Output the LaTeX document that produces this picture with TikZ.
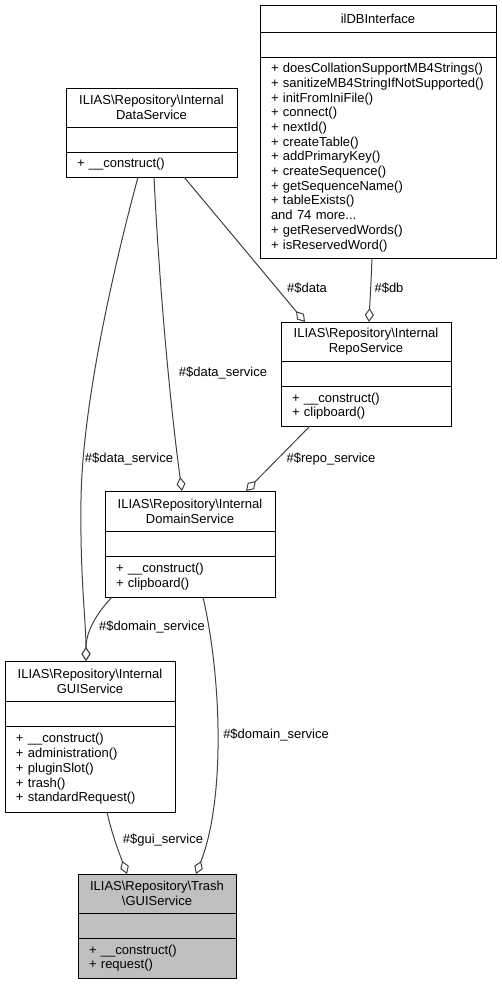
\documentclass[tikz,border=0pt]{standalone}
\usepackage{fontspec}
\setmainfont{Liberation Sans}
\usetikzlibrary{positioning,arrows.meta}
\definecolor{edgegray}{RGB}{64,64,64}
\definecolor{trashgray}{RGB}{191,191,191}
\hyphenpenalty=10000
\exhyphenpenalty=10000
\begin{document}
\begin{tikzpicture}[x=1pt,y=-1pt,line join=round,
		clsfont/.style={font=\fontsize{13}{14.7}\selectfont},
		clsname/.style={draw,line width=1pt,fill=white,clsfont,align=center,inner sep=0pt,outer sep=0pt},
		clsattr/.style={draw,line width=1pt,fill=white,inner sep=0pt,outer sep=0pt,minimum height=25pt},
		clsops/.style={draw,line width=1pt,fill=white,clsfont,align=left,inner xsep=11pt,inner ysep=0pt,outer sep=0pt},
		member/.style={draw=edgegray,line width=1pt,-{Diamond[fill=white,length=14pt,width=9pt]}},
		lbl/.style={clsfont,inner sep=0pt}]
		\useasboundingbox (0,0) rectangle (501,985);
		% classes
		\node[clsname,text width=236pt,minimum height=27pt] (idb) at (378,18.5) {ilDBInterface};
		\node[clsattr,minimum width=236pt,below=0pt of idb] (idbA) {};
		\node[clsops,text width=214pt,minimum height=201pt,below=0pt of idbA] (idbM) {+~doesCollationSupportMB4Strings()\\+~sanitizeMB4StringIfNotSupported()\\+~initFromIniFile()\\+~connect()\\+~nextId()\\+~createTable()\\+~addPrimaryKey()\\+~createSequence()\\+~getSequenceName()\\+~tableExists()\\and 74 more...\\+~getReservedWords()\\+~isReservedWord()};
		\node[clsname,text width=171pt,minimum height=39pt] (data) at (151.5,107.5) {ILIAS\textbackslash Repository\textbackslash Internal\\DataService};
		\node[clsattr,minimum width=171pt,below=0pt of data] (dataA) {};
		\node[clsops,text width=149pt,minimum height=25pt,below=0pt of dataA] (dataM) {+~\_\_construct()};
		\node[clsname,text width=170pt,minimum height=39pt] (repo) at (366,341.5) {ILIAS\textbackslash Repository\textbackslash Internal\\RepoService};
		\node[clsattr,minimum width=170pt,below=0pt of repo] (repoA) {};
		\node[clsops,text width=148pt,minimum height=40pt,below=0pt of repoA] (repoM) {+~\_\_construct()\\+~clipboard()};
		\node[clsname,text width=170pt,minimum height=40pt] (domain) at (190,511) {ILIAS\textbackslash Repository\textbackslash Internal\\DomainService};
		\node[clsattr,minimum width=170pt,below=0pt of domain] (domainA) {};
		\node[clsops,text width=148pt,minimum height=41pt,below=0pt of domainA] (domainM) {+~\_\_construct()\\+~clipboard()};
		\node[clsname,text width=170pt,minimum height=40pt] (gui) at (90,681) {ILIAS\textbackslash Repository\textbackslash Internal\\GUIService};
		\node[clsattr,minimum width=170pt,below=0pt of gui] (guiA) {};
		\node[clsops,text width=148pt,minimum height=86pt,below=0pt of guiA] (guiM) {+~\_\_construct()\\+~administration()\\+~pluginSlot()\\+~trash()\\+~standardRequest()};
		\node[clsname,fill=trashgray,text width=158pt,minimum height=39pt] (trash) at (157,893.5) {ILIAS\textbackslash Repository\textbackslash Trash\\\textbackslash GUIService};
		\node[clsattr,fill=trashgray,minimum width=158pt,below=0pt of trash] (trashA) {};
		\node[clsops,fill=trashgray,text width=136pt,minimum height=40pt,below=0pt of trashA] (trashM) {+~\_\_construct()\\+~request()};
		% members
		\draw[member] ([xshift=-6pt]idbM.south) .. controls (371,285) and (370,300) .. ([xshift=3pt]repo.north);
		\draw[member] ([xshift=32.5pt]dataM.south) -- ([xshift=-61pt]repo.north);
		\draw[member] ([xshift=2.5pt]dataM.south) .. controls (160,300) and (172,420) .. ([xshift=-8pt]domain.north);
		\draw[member] ([xshift=-13.5pt]dataM.south) .. controls (105,300) and (82,420) .. (81,500) .. controls (80,580) and (86,620) .. ([xshift=-4pt]gui.north);
		\draw[member] ([xshift=-56pt]repoM.south) -- ([xshift=56pt]domain.north);
		\draw[member] ([xshift=-78pt]domainM.south) .. controls (98,612) and (86,630) .. ([xshift=-4pt]gui.north);
		\draw[member] ([xshift=13pt]domainM.south) .. controls (222,680) and (225,800) .. ([xshift=39pt]trash.north);
		\draw[member] ([xshift=17pt]guiM.south) .. controls (112,835) and (120,855) .. ([xshift=-30pt]trash.north);
		% labels
		\node[lbl] (lData) at (307,288) {\#\$data};
		\node[lbl] (lDb) at (389,288) {\#\$db};
		\node[lbl] (lDataDomain) at (223,373) {\#\$data\_service};
		\node[lbl] (lDataGui) at (129,459) {\#\$data\_service};
		\node[lbl] (lRepo) at (331,459) {\#\$repo\_service};
		\node[lbl] (lDomainGui) at (152,627) {\#\$domain\_service};
		\node[lbl] (lDomainTrash) at (276,735) {\#\$domain\_service};
		\node[lbl] (lGui) at (163,840) {\#\$gui\_service};
	\end{tikzpicture}
\end{document}
